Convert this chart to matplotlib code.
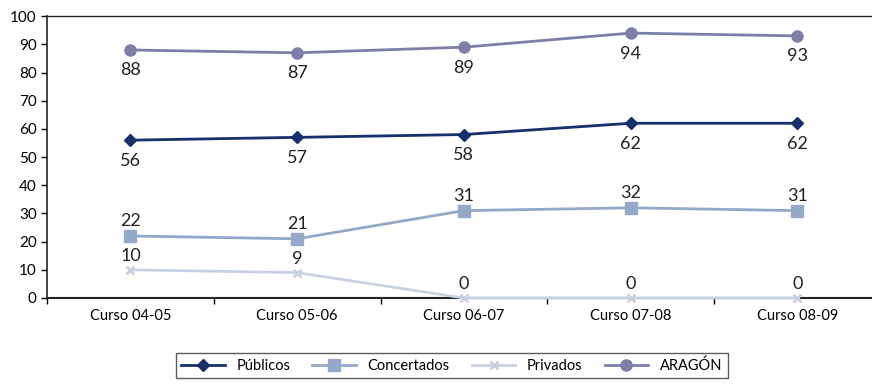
import matplotlib
matplotlib.use("Agg")
import matplotlib.pyplot as plt

cursos = ["Curso 04-05", "Curso 05-06", "Curso 06-07", "Curso 07-08", "Curso 08-09"]
publicos = [56, 57, 58, 62, 62]
concertados = [22, 21, 31, 32, 31]
privados = [10, 9, 0, 0, 0]
aragon = [88, 87, 89, 94, 93]

plt.rcParams['font.family'] = ['Lato', 'DejaVu Sans']

fig = plt.figure(figsize=(8.72, 3.85), dpi=100)
ax = fig.add_axes([0.054, 0.226, 0.956, 0.732])

x = range(len(cursos))
ax.plot(x, publicos, color='#15306a', lw=2, marker='D', ms=6, label='Públicos', zorder=4, clip_on=False)
ax.plot(x, concertados, color='#94a8c8', lw=2, marker='s', ms=8, label='Concertados', zorder=3, clip_on=False)
ax.plot(x, privados, color='#c8d0e4', lw=2, marker='x', ms=6, mew=2, label='Privados', zorder=5, clip_on=False)
ax.plot(x, aragon, color='#7d7fa8', lw=2, marker='o', ms=8, label='ARAGÓN', zorder=3, clip_on=False)

for i in x:
    ax.annotate(str(publicos[i]), (i, publicos[i]), xytext=(0, -9), textcoords='offset points',
                ha='center', va='top', fontsize=13, color='#222222')
    ax.annotate(str(aragon[i]), (i, aragon[i]), xytext=(0, -9), textcoords='offset points',
                ha='center', va='top', fontsize=13, color='#222222')
    ax.annotate(str(concertados[i]), (i, concertados[i]), xytext=(0, 5), textcoords='offset points',
                ha='center', va='bottom', fontsize=13, color='#222222')
    ax.annotate(str(privados[i]), (i, privados[i]), xytext=(0, 4), textcoords='offset points',
                ha='center', va='bottom', fontsize=13, color='#222222')

ax.set_ylim(0, 100)
ax.set_yticks(range(0, 101, 10))
ax.set_xlim(-0.5, 4.45)
ax.set_xticks(list(x))
ax.set_xticklabels(cursos)
ax.set_xticks([i + 0.5 for i in range(-1, 5)], minor=True)
ax.tick_params(axis='x', which='major', length=0, labelsize=10.5, pad=8)
ax.tick_params(axis='x', which='minor', length=4, width=1)
ax.tick_params(axis='y', labelsize=11, length=4, width=1)

for side in ['left', 'bottom', 'top']:
    ax.spines[side].set_color('#222222')
ax.spines['left'].set_linewidth(1.2)
ax.spines['bottom'].set_linewidth(1.5)
ax.spines['top'].set_linewidth(1)
ax.spines['right'].set_visible(False)

leg = fig.legend(loc='lower center', bbox_to_anchor=(0.518, 0.0), ncol=4, frameon=True,
                 fancybox=False, edgecolor='#333333', fontsize=10.5, handlelength=3,
                 columnspacing=1.5, borderpad=0.35)
leg.get_frame().set_linewidth(1)

fig.savefig("out.png", dpi=100)
